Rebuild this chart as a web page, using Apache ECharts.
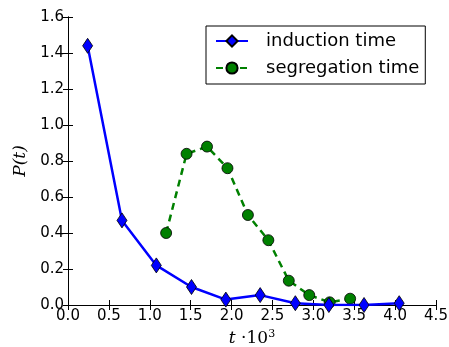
<!DOCTYPE html>
<html>
<head>
<meta charset="utf-8">
<script src="https://cdn.jsdelivr.net/npm/echarts@6/dist/echarts.min.js"></script>
<style>
  html, body { margin: 0; padding: 0; background: #fff; }
  #chart { width: 449px; height: 347px; }
</style>
</head>
<body>
<div id="chart"></div>
<script>
const indX = [0.24, 0.66, 1.08, 1.51, 1.93, 2.35, 2.78, 3.19, 3.62, 4.05];
const indY = [1.44, 0.47, 0.22, 0.10, 0.03, 0.055, 0.01, 0.0, 0.0, 0.01];
const segX = [1.20, 1.45, 1.70, 1.95, 2.20, 2.45, 2.70, 2.95, 3.20, 3.45];
const segY = [0.40, 0.84, 0.88, 0.76, 0.50, 0.36, 0.135, 0.055, 0.015, 0.035];

const myChart = echarts.init(document.getElementById('chart'));

const font = 'DejaVu Sans';
const tickIn = { show: true, inside: true, length: 5, lineStyle: { color: '#000' } };
const axisLine = { show: true, lineStyle: { color: '#000', width: 1 } };

const toPairs = (xs, ys) => xs.map((x, i) => [x, ys[i]]);

const option = {
  animation: false,
  grid: { left: 68, right: 13, top: 17, bottom: 42, outerBoundsMode: 'none' },
  legend: {
    left: 206,
    top: 26,
    orient: 'vertical',
    borderColor: '#000',
    borderWidth: 1,
    borderRadius: 0,
    padding: [6, 6, 7, 9],
    itemWidth: 32,
    itemHeight: 14,
    itemGap: 9,
    textStyle: { fontFamily: font, fontSize: 18, color: '#000', lineHeight: 18, padding: [0, 0, 0, 13] },
    data: ['induction time', 'segregation time'],
  },
  xAxis: [
    {
      type: 'value',
      min: 0,
      max: 4.5,
      interval: 0.5,
      axisLine: axisLine,
      axisTick: tickIn,
      splitLine: { show: false },
      axisLabel: {
        fontFamily: font,
        fontSize: 15,
        color: '#000',
        margin: 4,
        formatter: (v) => v.toFixed(1),
      },
      name: '{i|t} ·10{s|3}',
      nameLocation: 'middle',
      nameGap: 24,
      nameTextStyle: {
        fontFamily: 'DejaVu Serif',
        fontSize: 17,
        color: '#000',
        rich: {
          i: { fontFamily: 'DejaVu Serif', fontStyle: 'italic', fontSize: 17 },
          s: { fontFamily: 'DejaVu Serif', fontSize: 11, verticalAlign: 'top', padding: [0, 0, 9, 0] },
        },
      },
    },
    {
      type: 'value',
      position: 'top',
      min: 0,
      max: 4.5,
      interval: 0.5,
      axisLine: axisLine,
      axisTick: tickIn,
      axisLabel: { show: false },
      splitLine: { show: false },
    },
  ],
  yAxis: [
    {
      type: 'value',
      min: 0,
      max: 1.6,
      interval: 0.2,
      axisLine: axisLine,
      axisTick: tickIn,
      splitLine: { show: false },
      axisLabel: {
        fontFamily: font,
        fontSize: 15,
        color: '#000',
        margin: 4,
        formatter: (v) => v.toFixed(1),
      },
      name: 'P(t)',
      nameLocation: 'middle',
      nameGap: 36,
      nameTextStyle: { fontFamily: 'DejaVu Serif', fontStyle: 'italic', fontSize: 17, color: '#000' },
    },
    {
      type: 'value',
      position: 'right',
      min: 0,
      max: 1.6,
      interval: 0.2,
      axisLine: axisLine,
      axisTick: tickIn,
      axisLabel: { show: false },
      splitLine: { show: false },
    },
  ],
  series: [
    {
      name: 'induction time',
      type: 'line',
      data: toPairs(indX, indY),
      symbol: 'diamond',
      symbolSize: [10, 15],
      lineStyle: { color: '#0000ff', width: 2.5 },
      itemStyle: { color: '#0000ff', borderColor: '#000', borderWidth: 0.8 },
      z: 3,
    },
    {
      name: 'segregation time',
      type: 'line',
      data: toPairs(segX, segY),
      symbol: 'circle',
      symbolSize: 11,
      lineStyle: { color: '#008000', width: 2.5, type: [7, 5] },
      itemStyle: { color: '#008000', borderColor: '#000', borderWidth: 0.8 },
      z: 2,
    },
  ],
};

myChart.setOption(option);
</script>
</body>
</html>
